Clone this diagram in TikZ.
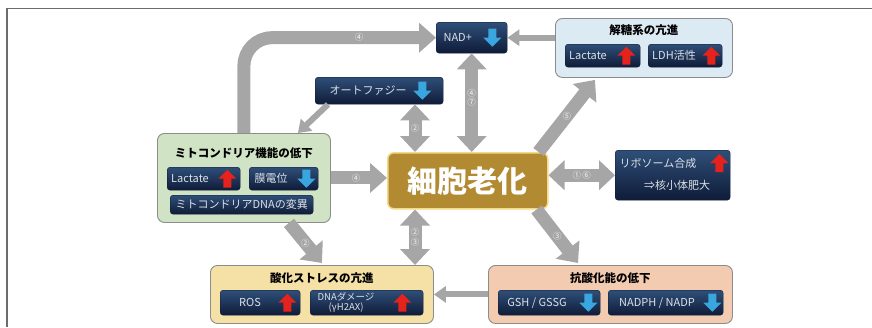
\documentclass[tikz,border=0pt]{standalone}
\usepackage{fontspec}
\setmainfont{Noto Sans CJK JP}
\usetikzlibrary{arrows.meta,calc}
\definecolor{navyT}{HTML}{2F4F78}
\definecolor{navyB}{HTML}{0F1B38}
\definecolor{arrgray}{HTML}{A6A6A6}
\definecolor{grpline}{HTML}{8C8C8C}
\definecolor{arrred}{HTML}{E5221B}
\definecolor{arrblue}{HTML}{3AA6DF}
\definecolor{goldf}{HTML}{B28A32}
\definecolor{goldb}{HTML}{F5D987}
\definecolor{greenf}{HTML}{D0E3C4}
\definecolor{bluef}{HTML}{DCEAF4}
\definecolor{yellowf}{HTML}{F5E0A6}
\definecolor{salmonf}{HTML}{F3CBB1}
\definecolor{ltxt}{HTML}{DCE1E8}
\tikzset{
 grp/.style={draw=grpline, line width=0.9pt, rounded corners=7pt, anchor=north west, inner sep=0pt},
 dark/.style={rounded corners=3pt, top color=navyT, bottom color=navyB, draw=navyB, anchor=north west, inner sep=0pt},
 dtext/.style={text=ltxt, font=\fontsize{11}{12}\selectfont, inner sep=0pt},
 ttl/.style={font=\bfseries\fontsize{11.5}{12}\selectfont, inner sep=0pt},
 bigarr/.style={draw=arrgray, line width=13pt, -{Triangle[width=29pt,length=17pt]}},
 bigdbl/.style={draw=arrgray, line width=13pt, {Triangle[width=29pt,length=16pt]}-{Triangle[width=29pt,length=16pt]}},
 smarr/.style={draw=arrgray, line width=6pt, -{Triangle[width=16pt,length=12pt]}},
 lbl/.style={font=\fontsize{8.5}{9.5}\selectfont, text=white!92!gray, inner sep=0pt, align=center},
 uparr/.pic={\fill[arrred] (0,-9) -- (9,0) -- (4,0) -- (4,9) -- (-4,9) -- (-4,0) -- (-9,0) -- cycle;},
 dnarr/.pic={\fill[arrblue] (0,9) -- (9,0) -- (4,0) -- (4,-9) -- (-4,-9) -- (-4,0) -- (-9,0) -- cycle;}
}
\begin{document}
\begin{tikzpicture}[x=1pt,y=-1pt]
\useasboundingbox (0,0) rectangle (872,327);
\draw[draw=gray!85!black, line width=1.5pt] (7,327) -- (7,8.5) -- (872,8.5);

% group boxes
\node[grp, fill=bluef, minimum width=177pt, minimum height=59pt] (glyc) at (555,18) {};
\node[grp, fill=greenf, minimum width=173pt, minimum height=89pt] (mito) at (157,133) {};
\node[grp, fill=yellowf, minimum width=223pt, minimum height=58pt] (oxid) at (210,265) {};
\node[grp, fill=salmonf, minimum width=244pt, minimum height=58pt] (anti) at (488,265) {};
\node[anchor=north west, inner sep=0pt, fill=goldf, draw=goldb, line width=1.5pt, rounded corners=6pt, minimum width=160pt, minimum height=56pt] (senes) at (387,152) {};
\node[text=white, font=\bfseries\fontsize{30}{32}\selectfont, inner sep=0pt] at (senes.center) {細胞老化};

% titles
\node[ttl] at ($(glyc.north)+(0,12)$) {解糖系の亢進};
\node[ttl] at ($(mito.north)+(0,20)$) {ミトコンドリア機能の低下};
\node[ttl] at ($(oxid.north)+(0,13)$) {酸化ストレスの亢進};
\node[ttl] at ($(anti.north)+(0,13)$) {抗酸化能の低下};

% dark boxes
\node[dark, minimum width=71pt, minimum height=31pt] (nad) at (436,22) {};
\node[dtext] at ($(nad.center)+(-14,0)$) {NAD+};
\pic at ($(nad.east)+(-15,0)$) {dnarr};

\node[dark, minimum width=75pt, minimum height=23pt] (glac) at (565,44) {};
\node[dtext] at ($(glac.west)+(23,0)$) {Lactate};
\pic at ($(glac.east)+(-14,0)$) {uparr};
\node[dark, minimum width=74pt, minimum height=23pt] (ldh) at (648,44) {};
\node[dtext] at ($(ldh.west)+(26,0)$) {LDH活性};
\pic at ($(ldh.east)+(-11,0)$) {uparr};

\node[dark, minimum width=128pt, minimum height=27pt] (auto) at (315,77) {};
\node[dtext] at ($(auto.west)+(53,0)$) {オートファジー};
\pic at ($(auto.east)+(-21,0)$) {dnarr};

\node[dark, minimum width=115pt, minimum height=50pt] (ribo) at (615,150) {};
\node[dtext] at ($(ribo.north west)+(43,13)$) {リボソーム合成};
\node[dtext] at ($(ribo.north west)+(62,35)$) {⇒核小体肥大};
\pic at ($(ribo.north east)+(-11,13)$) {uparr};

\node[dark, minimum width=73pt, minimum height=23pt] (mlac) at (167,167) {};
\node[dtext] at ($(mlac.west)+(23,0)$) {Lactate};
\pic at ($(mlac.east)+(-13,0)$) {uparr};
\node[dark, minimum width=69pt, minimum height=23pt] (memb) at (249,167) {};
\node[dtext] at ($(memb.west)+(22,0)$) {膜電位};
\pic at ($(memb.east)+(-12,0)$) {dnarr};
\node[dark, minimum width=143pt, minimum height=19pt] (mdna) at (170,195) {};
\node[dtext] at (mdna.center) {ミトコンドリアDNAの変異};

\node[dark, minimum width=80pt, minimum height=25pt] (ros) at (220,290) {};
\node[dtext] at ($(ros.west)+(30,0)$) {ROS};
\pic at ($(ros.east)+(-13,0)$) {uparr};
\node[dark, minimum width=113pt, minimum height=25pt] (dnad) at (310,290) {};
\node[dtext, font=\fontsize{9.5}{10}\selectfont, align=center] at ($(dnad.west)+(36,0)$) {DNAダメージ\\(γH2AX)};
\pic at ($(dnad.east)+(-21,0)$) {uparr};

\node[dark, minimum width=102pt, minimum height=25pt] (gsh) at (498,290) {};
\node[dtext] at ($(gsh.west)+(39,0)$) {GSH / GSSG};
\pic at ($(gsh.east)+(-12,0)$) {dnarr};
\node[dark, minimum width=115pt, minimum height=25pt] (nadph) at (608,290) {};
\node[dtext] at ($(nadph.west)+(49,0)$) {NADPH / NADP};
\pic at ($(nadph.east)+(-11,0)$) {dnarr};

% connectors
\draw[bigarr, rounded corners=28pt] (mito.north) |- (nad.west) node[lbl, pos=0.8] {④};
\draw[smarr] (glyc.west |- nad.east) -- (nad.east);
\draw[smarr] ($(auto.south west)+(13,0)$) -- ($(mito.north east)+(-33,0)$);
\draw[bigdbl] ($(auto.south west)+(100,0)$) -- ($(senes.north west)+(28,0)$) node[lbl, midway] {②};
\draw[bigdbl] (nad.south) -- (nad.south |- senes.north) node[lbl, pos=0.45] {④\\⑦};
\draw[bigarr] ($(senes.north east)+(-10,0)$) -- ($(glyc.south west)+(40,2)$) node[lbl, midway] {⑤};
\draw[bigdbl] (senes.east |- ribo.west) -- (ribo.west) node[lbl, midway] {①\,⑥};
\draw[bigarr] (mito.east) -- (mito.east -| senes.west) node[lbl, pos=0.45] {④};
\draw[bigarr] ($(senes.south east)+(-12,0)$) -- ($(anti.north west)+(90,-2)$) node[lbl, midway] {③};
\draw[bigdbl] ($(senes.south west)+(28,0)$) -- ($(oxid.north west)+(205,0)$) node[lbl, midway] {②\\③};
\draw[bigarr] ($(mito.south)+(45,0)$) -- ($(oxid.north)+(0,-2)$) node[lbl, midway] {②};
\draw[smarr] (anti.west) -- (oxid.east |- anti.west);
\end{tikzpicture}
\end{document}
